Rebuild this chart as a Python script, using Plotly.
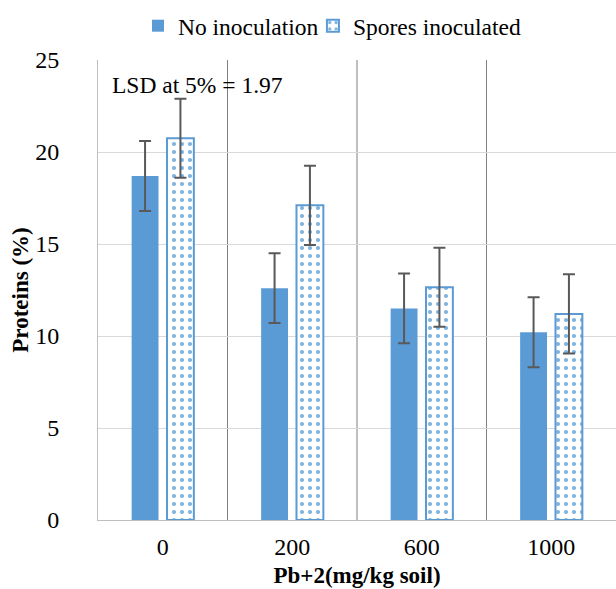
import plotly.graph_objects as go

categories = ["0", "200", "600", "1000"]
no_inoc = [18.7, 12.6, 11.5, 10.2]
no_inoc_err = [1.9, 1.9, 1.9, 1.9]
spores = [20.75, 17.1, 12.65, 11.2]
spores_err = [2.15, 2.15, 2.15, 2.15]
lsd_text = "LSD at 5% = 1.97"

FONT = "Liberation Serif"
BLUE = "#5B9BD5"
ERR = "#595959"

fig = go.Figure()
fig.add_trace(go.Bar(
    x=categories, y=no_inoc, name="No inoculation", legend="legend",
    marker=dict(color=BLUE, line=dict(width=0)),
    error_y=dict(type="data", array=no_inoc_err, color=ERR, thickness=2, width=6),
))
fig.add_trace(go.Bar(
    x=categories, y=spores, name="Spores inoculated", legend="legend2",
    marker=dict(color="white", line=dict(color=BLUE, width=2),
                pattern=dict(shape=".", fgcolor="#0066BB", bgcolor="white",
                             size=8, solidity=0.22)),
    error_y=dict(type="data", array=spores_err, color=ERR, thickness=2, width=6),
))

for xpos in [0.5, 1.5, 2.5]:
    fig.add_shape(type="line", xref="x", yref="paper", x0=xpos, x1=xpos, y0=0, y1=1,
                  line=dict(color="#7F7F7F", width=1), layer="below")

fig.add_annotation(text=lsd_text, xref="paper", yref="paper", x=0.024, y=0.945,
                   xanchor="left", yanchor="middle", showarrow=False,
                   font=dict(family=FONT, size=23.5, color="black"))

legend_common = dict(orientation="h", y=0.956, xref="container", yref="container",
                     xanchor="left", yanchor="middle", bgcolor="rgba(0,0,0,0)",
                     font=dict(family=FONT, size=23.5, color="black"))

fig.update_layout(
    width=616, height=589,
    margin=dict(l=98, r=0, t=60, b=69, autoexpand=False),
    paper_bgcolor="white", plot_bgcolor="white",
    barmode="group", bargap=0.454, bargroupgap=0.24,
    font=dict(family=FONT, size=23, color="black"),
    showlegend=True,
    legend=dict(x=0.224, **legend_common),
    legend2=dict(x=0.508, **legend_common),
    xaxis=dict(
        range=[-0.5, 3.5], showgrid=False, showline=True, linecolor="#BFBFBF",
        linewidth=1, ticks="", tickfont=dict(family=FONT, size=24), automargin=False,
        ticklabelstandoff=5,
        title=dict(text="<b>Pb+2(mg/kg soil)</b>", font=dict(family=FONT, size=23), standoff=8),
    ),
    yaxis=dict(
        range=[0, 25], dtick=5, showgrid=True, gridcolor="#D9D9D9", gridwidth=1,
        showline=True, linecolor="#BFBFBF", linewidth=1, zeroline=False, automargin=False,
        ticks="", ticklabelstandoff=33, tickfont=dict(family=FONT, size=24),
        title=dict(text="<b>Proteins (%)</b>", font=dict(family=FONT, size=23), standoff=0),
    ),
)

fig.write_html("out.html", config={"displayModeBar": False},
               post_script="document.body.style.margin='0';")
